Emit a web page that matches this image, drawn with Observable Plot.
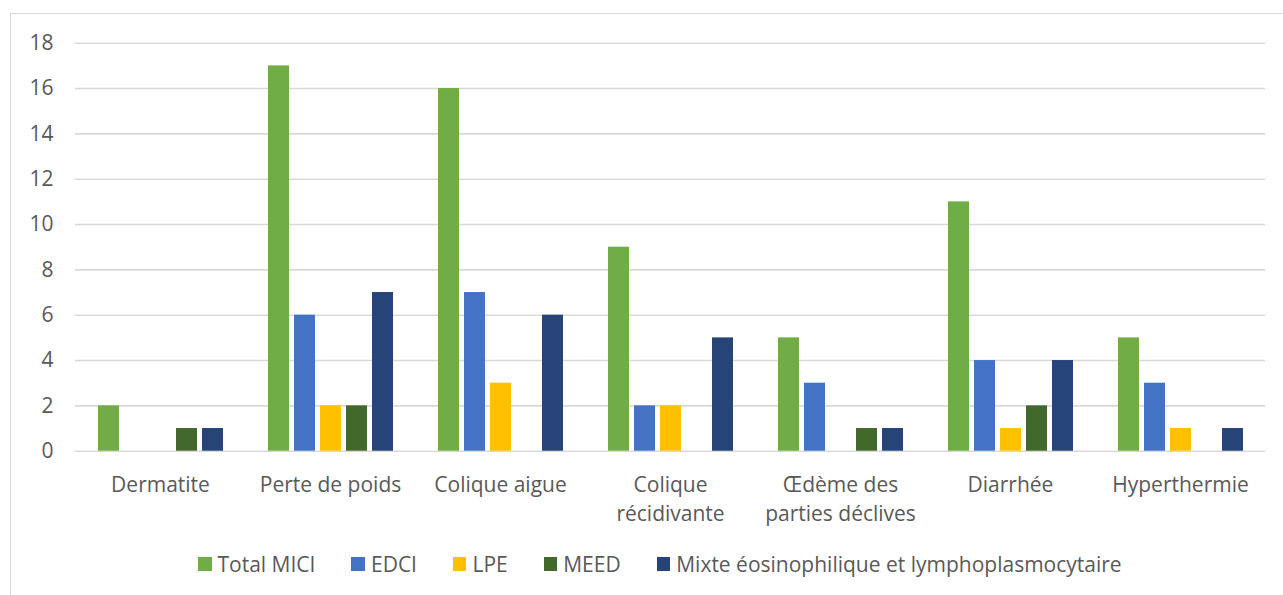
<!DOCTYPE html>
<html>
<head>
<meta charset="utf-8">
<script src="https://cdn.jsdelivr.net/npm/d3@7"></script>
<script src="https://cdn.jsdelivr.net/npm/@observablehq/plot@0.6"></script>
<style>
  html, body { margin: 0; padding: 0; background: #fff; overflow: hidden; }
  body { width: 1283px; height: 595px; position: relative; font-family: "Open Sans", sans-serif; }
  #frame { position: absolute; left: 10px; top: 13px; width: 1300px; height: 620px; border: 1.5px solid #d9d9d9; box-sizing: border-box; }
  #chart { position: absolute; left: 0; top: 0; }
  #legend { position: absolute; left: 198px; top: 550px; display: flex; align-items: center; font-size: 21px; color: #595959; white-space: nowrap; }
  #legend .item { display: flex; align-items: center; margin-right: 36px; }
  #legend .sw { width: 13.5px; height: 13.5px; margin-right: 6px; }
</style>
</head>
<body>
<div id="frame"></div>
<div id="chart"></div>
<div id="legend"></div>
<script>
const categories = ["Dermatite", "Perte de poids", "Colique aigue", "Colique récidivante", "Œdème des parties déclives", "Diarrhée", "Hyperthermie"];
const categoryLabels = ["Dermatite", "Perte de poids", "Colique aigue", "Colique\nrécidivante", "Œdème des\nparties déclives", "Diarrhée", "Hyperthermie"];
const series = ["Total MICI", "EDCI", "LPE", "MEED", "Mixte éosinophilique et lymphoplasmocytaire"];
const colors = ["#70AD47", "#4472C4", "#FFC000", "#43682B", "#264478"];
const totalMICI = [2, 17, 16, 9, 5, 11, 5];
const edci = [0, 6, 7, 2, 3, 4, 3];
const lpe = [0, 2, 3, 2, 0, 1, 1];
const meed = [1, 2, 0, 0, 1, 2, 0];
const mixte = [1, 7, 6, 5, 1, 4, 1];
const yTicks = [0, 2, 4, 6, 8, 10, 12, 14, 16, 18];

const seriesValues = [totalMICI, edci, lpe, meed, mixte];
const data = [];
categories.forEach((c, i) => {
  series.forEach((s, j) => {
    data.push({category: c, series: s, value: seriesValues[j][i]});
  });
});
const labelOf = new Map(categories.map((c, i) => [c, categoryLabels[i]]));

const chart = Plot.plot({
  width: 1283,
  height: 530,
  marginLeft: 74,
  marginRight: 17,
  marginTop: 42.7,
  marginBottom: 79.3,
  style: {fontFamily: "Open Sans, sans-serif", fontSize: "21px", color: "#595959", background: "transparent", overflow: "visible"},
  fx: {domain: categories, padding: 0, axis: null},
  x: {domain: series, paddingInner: 0.2, paddingOuter: 0.8625, axis: null},
  y: {domain: [0, 18], ticks: yTicks, tickSize: 0, tickPadding: 22, label: null, tickFormat: d => String(d)},
  color: {domain: series, range: colors},
  marks: [
    Plot.ruleY(yTicks, {stroke: "#d9d9d9", strokeWidth: 1.6}),
    Plot.barY(data.filter(d => d.value > 0), {fx: "category", x: "series", y: "value", fill: "series"}),
    Plot.text(categories, {fx: d => d, text: d => labelOf.get(d), frameAnchor: "bottom", lineAnchor: "top", dy: 20, lineHeight: 1.38, fill: "#595959", fontSize: 21})
  ]
});
document.getElementById("chart").appendChild(chart);

const cs = chart.scale("color");
const legend = document.getElementById("legend");
cs.domain.forEach((name, i) => {
  const item = document.createElement("div");
  item.className = "item";
  const sw = document.createElement("div");
  sw.className = "sw";
  sw.style.background = cs.range[i];
  const t = document.createElement("span");
  t.textContent = name;
  item.appendChild(sw);
  item.appendChild(t);
  legend.appendChild(item);
});
</script>
</body>
</html>
